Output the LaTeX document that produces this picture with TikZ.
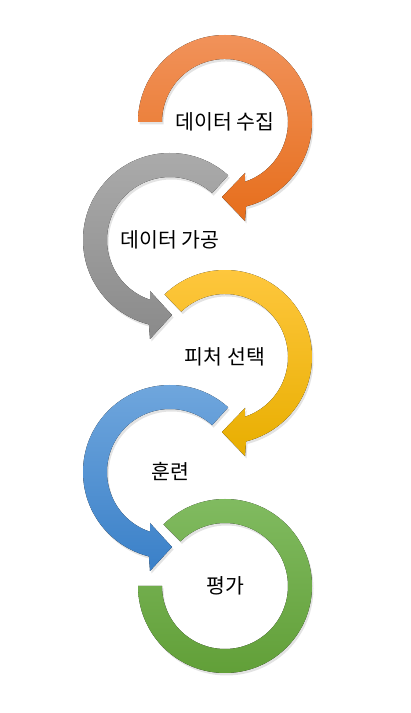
\documentclass[tikz,border=0pt]{standalone}
\usepackage{fontspec}
\newfontfamily\kofont{Noto Sans CJK KR}
\usetikzlibrary{shadows}

\definecolor{orTop}{RGB}{241,146,90}
\definecolor{orBot}{RGB}{230,110,28}
\definecolor{grTop}{RGB}{172,172,172}
\definecolor{grBot}{RGB}{138,138,138}
\definecolor{yeTop}{RGB}{255,200,64}
\definecolor{yeBot}{RGB}{232,174,0}
\definecolor{blTop}{RGB}{114,168,222}
\definecolor{blBot}{RGB}{58,128,200}
\definecolor{gnTop}{RGB}{130,188,98}
\definecolor{gnBot}{RGB}{96,158,54}

\tikzset{
  ring/.style={drop shadow={opacity=0.22,shadow xshift=1.5pt,shadow yshift=-2.5pt}},
  lbl/.style={font=\kofont\fontsize{20.5}{22}\selectfont, text=black}
}

\begin{document}
\begin{tikzpicture}[x=1pt,y=1pt]
      \useasboundingbox (0,0) rectangle (411,713);
      % centres of the rings
      \coordinate (c1) at (225,591);
      \coordinate (c2) at (170,473);
      \coordinate (c3) at (225,356);
      \coordinate (c4) at (170,241);
      \coordinate (c5) at (225,127);
      % rings, top to bottom
      \fill[ring, top color=orTop, bottom color=orBot, shift={(c1)}] (180:87) arc[start angle=180, end angle=-76, radius=87] -- (20,-99) -- (-3,-75) -- (20,-51) -- (-71.5:63) arc[start angle=-71.5, end angle=180, radius=63] -- cycle;
      \fill[ring, top color=grTop, bottom color=grBot, shift={(c2)}] (48:87) arc[start angle=48, end angle=256, radius=87] -- (-20,-99) -- (2,-75) -- (-20,-51) -- (251.5:63) arc[start angle=251.5, end angle=48, radius=63] -- cycle;
      \fill[ring, top color=yeTop, bottom color=yeBot, shift={(c3)}] (134:87) arc[start angle=134, end angle=-76, radius=87] -- (20,-99) -- (-3,-75) -- (20,-51) -- (-71.5:63) arc[start angle=-71.5, end angle=134, radius=63] -- cycle;
      \fill[ring, top color=blTop, bottom color=blBot, shift={(c4)}] (48:87) arc[start angle=48, end angle=256, radius=87] -- (-20,-99) -- (2,-75) -- (-20,-51) -- (251.5:63) arc[start angle=251.5, end angle=48, radius=63] -- cycle;
      \fill[ring, top color=gnTop, bottom color=gnBot, shift={(c5)}] (135:87) arc[start angle=135, end angle=-180, radius=87] -- (180:63) arc[start angle=-180, end angle=135, radius=63] -- cycle;
      % labels
      \node[lbl] (collect) at (c1) {데이터 수집};
      \node[lbl] (prep) at (c2) {데이터 가공};
      \node[lbl] (feat) at (c3) {피처 선택};
      \node[lbl] (train) at (c4) {훈련};
      \node[lbl] (eval) at (c5) {평가};
\end{tikzpicture}
\end{document}
